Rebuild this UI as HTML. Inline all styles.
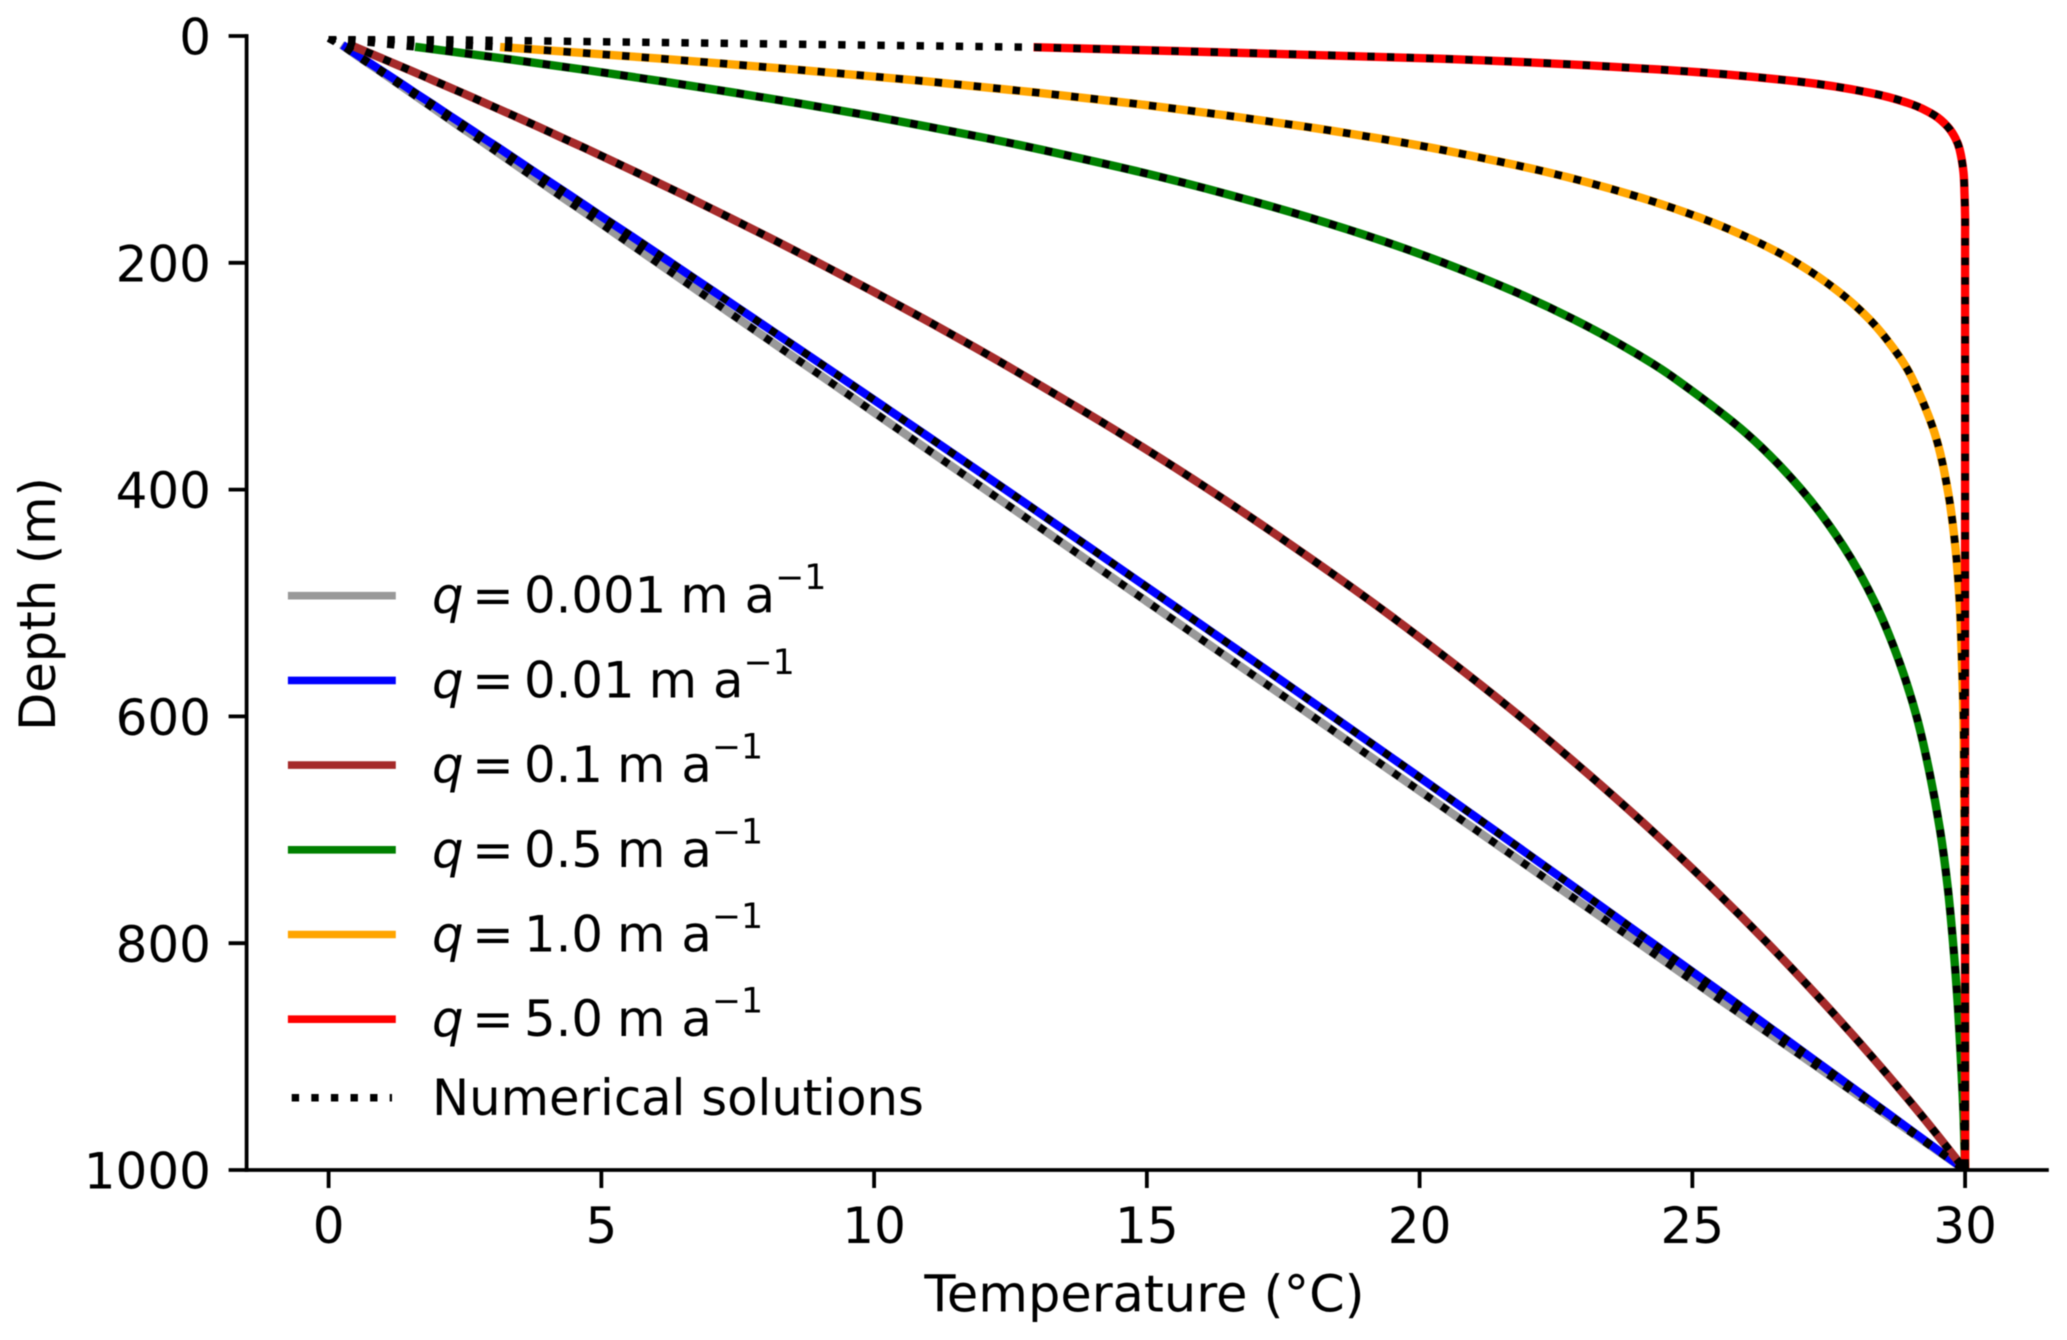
<!DOCTYPE html>
<html lang="en">
<head>
<meta charset="utf-8">
<title>Temperature versus depth profiles</title>
<style>
html,body{margin:0;padding:0;background:#fff;width:2067px;height:1340px;overflow:hidden}
svg{display:block;filter:blur(0.4px)}
text{font-family:"DejaVu Sans","Liberation Sans",sans-serif;font-size:50px;fill:#000}
#legend text{font-size:49.7px}
</style>
</head>
<body>
<svg id="chart" xmlns="http://www.w3.org/2000/svg" width="2067" height="1340" viewBox="0 0 2067 1340">
  <defs><clipPath id="plot-clip"><rect x="246.5" y="36" width="1800.5" height="1134"/></clipPath></defs>
  <g id="analytic-lines" clip-path="url(#plot-clip)"></g>
  <g id="numeric-lines" clip-path="url(#plot-clip)"></g>
  <g id="axes"></g>
  <text x="1144.5" y="1311.5" text-anchor="middle" style="font-size:51px">Temperature (°C)</text>
  <text transform="translate(55,604) rotate(-90)" text-anchor="middle" style="font-size:49.6px">Depth (m)</text>
  <g id="legend"></g>
</svg>
<script>
// ---- data ----
const xTicks = [0, 5, 10, 15, 20, 25, 30];
const yTicks = [0, 200, 400, 600, 800, 1000];
const depths = [10,20,30,40,50,60,70,80,90,100,120,140,160,180,200,225,250,275,300,350,400,450,500,550,600,650,700,750,800,850,900,950,1000];
const qLabels = ['0.001', '0.01', '0.1', '0.5', '1.0', '5.0'];
const seriesNames = ['q-0-001', 'q-0-01', 'q-0-1', 'q-0-5', 'q-1-0', 'q-5-0'];
const seriesColors = ['#999999', '#0000ff', '#a52a2a', '#008000', '#ffa500', '#ff0000'];

const tempQ0001 = [0.30,0.60,0.91,1.21,1.51,1.81,2.11,2.41,2.72,3.02,3.62,4.22,4.83,5.43,6.03,6.78,7.53,8.28,9.04,10.54,12.04,13.54,15.04,16.54,18.04,19.53,21.03,22.52,24.02,25.51,27.02,28.51,30];
const tempQ001 = [0.32,0.63,0.95,1.27,1.58,1.90,2.21,2.53,2.84,3.16,3.78,4.41,5.03,5.66,6.28,7.05,7.82,8.59,9.36,10.89,12.41,13.92,15.42,16.92,18.41,19.89,21.36,22.82,24.27,25.72,27.15,28.58,30];
const tempQ01 = [0.50,0.99,1.48,1.96,2.44,2.91,3.38,3.84,4.29,4.75,5.63,6.50,7.34,8.17,8.98,9.97,10.93,11.86,12.76,14.50,16.14,17.68,19.15,20.53,21.84,23.07,24.24,25.34,26.38,27.36,28.29,29.17,30];
const tempQ05 = [1.66,3.23,4.72,6.12,7.44,8.69,9.88,10.99,12.05,13.04,14.88,16.51,17.97,19.28,20.44,21.72,22.83,23.79,24.62,25.98,27.00,27.77,28.35,28.78,29.11,29.35,29.54,29.68,29.78,29.86,29.92,29.97,30];
const tempQ10 = [3.22,6.10,8.66,10.96,13.00,14.83,16.45,17.91,19.21,20.37,22.33,23.88,25.13,26.12,26.91,27.67,28.25,28.68,29.01,29.44,29.68,29.82,29.90,29.94,29.97,29.98,29.99,29.99,30,30,30,30,30];
const tempQ50 = [13.00,20.37,24.54,26.91,28.25,29.01,29.44,29.68,29.82,29.90,29.97,29.99,30,30,30,30,30,30,30,30,30,30,30,30,30,30,30,30,30,30,30,30,30];

const numericDepths = [2,10,20,30,40,50,60,70,80,90,100,120,140,160,180,200,225,250,275,300,350,400,450,500,550,600,650,700,750,800,850,900,950,1000];
const numQ0001 = [0,0.30,0.60,0.91,1.21,1.51,1.81,2.11,2.41,2.72,3.02,3.62,4.22,4.83,5.43,6.03,6.78,7.53,8.28,9.04,10.54,12.04,13.54,15.04,16.54,18.04,19.53,21.03,22.52,24.02,25.51,27.02,28.51,30];
const numQ001 = [0,0.32,0.63,0.95,1.27,1.58,1.90,2.21,2.53,2.84,3.16,3.78,4.41,5.03,5.66,6.28,7.05,7.82,8.59,9.36,10.89,12.41,13.92,15.42,16.92,18.41,19.89,21.36,22.82,24.27,25.72,27.15,28.58,30];
const numQ01 = [0,0.50,0.99,1.48,1.96,2.44,2.91,3.38,3.84,4.29,4.75,5.63,6.50,7.34,8.17,8.98,9.97,10.93,11.86,12.76,14.50,16.14,17.68,19.15,20.53,21.84,23.07,24.24,25.34,26.38,27.36,28.29,29.17,30];
const numQ05 = [0,1.66,3.23,4.72,6.12,7.44,8.69,9.88,10.99,12.05,13.04,14.88,16.51,17.97,19.28,20.44,21.72,22.83,23.79,24.62,25.98,27.00,27.77,28.35,28.78,29.11,29.35,29.54,29.68,29.78,29.86,29.92,29.97,30];
const numQ10 = [0,3.22,6.10,8.66,10.96,13.00,14.83,16.45,17.91,19.21,20.37,22.33,23.88,25.13,26.12,26.91,27.67,28.25,28.68,29.01,29.44,29.68,29.82,29.90,29.94,29.97,29.98,29.99,29.99,30,30,30,30,30];
const numQ50 = [0,13.00,20.37,24.54,26.91,28.25,29.01,29.44,29.68,29.82,29.90,29.97,29.99,30,30,30,30,30,30,30,30,30,30,30,30,30,30,30,30,30,30,30,30,30];

const analyticSeries = [tempQ0001, tempQ001, tempQ01, tempQ05, tempQ10, tempQ50];
const numericSeries = [numQ0001, numQ001, numQ01, numQ05, numQ10, numQ50];

// ---- axis functions ----
const NS = 'http://www.w3.org/2000/svg';
const CURVE_W = 8.4;
const HANDLE_W = 7.6;
const DOT_W = 7.5;
const AXIS_W = 3.8;
const DOT_DASH = '7.4 12.2';
function xScale(t) { return 328.6 + 54.55 * t; }
function yScale(d) { return 36 + 1.134 * d; }
function make(tag, attrs, parent) {
  const el = document.createElementNS(NS, tag);
  for (const k in attrs) el.setAttribute(k, attrs[k]);
  parent.appendChild(el);
  return el;
}
// Hermite spline parameterised by depth so that uneven depth steps stay smooth
function splinePath(temps, zs, straightFirst) {
  const X = temps.map(xScale);
  const Y = zs.map(yScale);
  let d = 'M' + X[0].toFixed(2) + ' ' + Y[0].toFixed(2);
  let start = 0;
  if (straightFirst) {
    d += 'L' + X[1].toFixed(2) + ' ' + Y[1].toFixed(2);
    start = 1;
  }
  function slope(A, i) {
    const lo = Math.max(i - 1, start), hi = Math.min(i + 1, A.length - 1);
    return (A[hi] - A[lo]) / (zs[hi] - zs[lo]);
  }
  for (let i = start; i < X.length - 1; i++) {
    const h = (zs[i + 1] - zs[i]) / 3;
    d += 'C' + (X[i] + slope(X, i) * h).toFixed(2) + ' ' + (Y[i] + slope(Y, i) * h).toFixed(2) +
         ' ' + (X[i + 1] - slope(X, i + 1) * h).toFixed(2) + ' ' + (Y[i + 1] - slope(Y, i + 1) * h).toFixed(2) +
         ' ' + X[i + 1].toFixed(2) + ' ' + Y[i + 1].toFixed(2);
  }
  return d;
}

// ---- series ----
const analyticGroup = document.getElementById('analytic-lines');
analyticSeries.forEach(function (temps, i) {
  const path = make('path', { d: splinePath(temps, depths, false), fill: 'none', stroke: seriesColors[i], 'stroke-width': CURVE_W, 'stroke-linecap': 'square', 'stroke-linejoin': 'round' }, analyticGroup);
  
  
});
const numericGroup = document.getElementById('numeric-lines');
numericSeries.forEach(function (temps, i) {
  const path = make('path', { d: splinePath(temps, numericDepths, true), fill: 'none', stroke: '#000', 'stroke-width': DOT_W, 'stroke-linecap': 'butt', 'stroke-dasharray': DOT_DASH }, numericGroup);
  
  
});

// ---- axes ----
const axes = document.getElementById('axes');
const ySpine = make('line', { x1: 246.6, x2: 246.6, y1: yScale(0) - 1.9, y2: yScale(1000) + 1.9, stroke: '#000', 'stroke-width': AXIS_W }, axes);


const xSpine = make('line', { x1: 244.7, x2: 2048.8, y1: yScale(1000), y2: yScale(1000), stroke: '#000', 'stroke-width': AXIS_W }, axes);


xTicks.forEach(function (t) {
  const tick = make('line', { x1: xScale(t), x2: xScale(t), y1: yScale(1000), y2: yScale(1000) + 18, stroke: '#000', 'stroke-width': AXIS_W }, axes);
  
  
  const label = make('text', { x: xScale(t), y: 1243, 'text-anchor': 'middle' }, axes);
  label.textContent = String(t);
  
  
});
yTicks.forEach(function (d) {
  const tick = make('line', { x1: 246.6, x2: 228.6, y1: yScale(d), y2: yScale(d), stroke: '#000', 'stroke-width': AXIS_W }, axes);
  
  
  const label = make('text', { x: 211, y: yScale(d) + 18.6, 'text-anchor': 'end' }, axes);
  label.textContent = String(d);
  
  
});

// ---- legend ----
const legend = document.getElementById('legend');
qLabels.forEach(function (q, i) {
  const cy = 595.7 + 84.7 * i;
  const entry = make('g', {}, legend);
  
  
  const handle = make('line', { x1: 291.7, x2: 392, y1: cy, y2: cy, stroke: seriesColors[i], 'stroke-width': HANDLE_W, 'stroke-linecap': 'square' }, entry);
  
  
  const text = make('text', { x: 432, y: cy + 17 }, entry);
  
  
  make('tspan', { 'font-style': 'italic' }, text).textContent = 'q';
  make('tspan', { dx: 8.6 }, text).textContent = '=';
  make('tspan', { dx: 10.2 }, text).textContent = q;
  make('tspan', { dx: 14 }, text).textContent = 'm';
  make('tspan', { dx: 16 }, text).textContent = 'a';
  make('tspan', { dy: -23.5, style: 'font-size:34.8px' }, text).textContent = '\u22121';
});
const numEntry = make('g', {}, legend);


const numCy = 595.7 + 84.7 * qLabels.length - 6.2;
const numHandle = make('line', { x1: 291.7, x2: 392, y1: numCy, y2: numCy, stroke: '#000', 'stroke-width': DOT_W, 'stroke-dasharray': DOT_DASH }, numEntry);


const numText = make('text', { x: 432, y: numCy + 17.3 }, numEntry);
numText.textContent = 'Numerical solutions';


</script>
</body>
</html>
